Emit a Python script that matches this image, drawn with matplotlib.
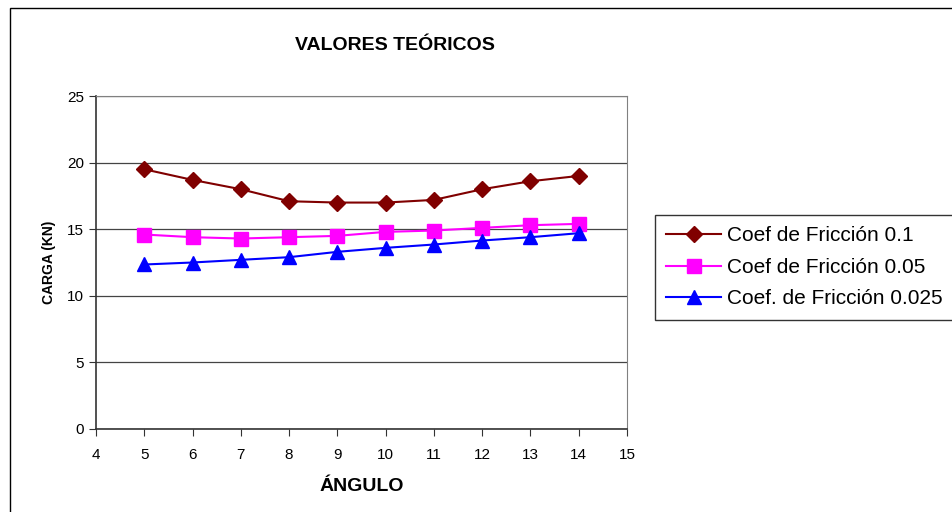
import matplotlib
matplotlib.use("Agg")
import matplotlib.pyplot as plt
from matplotlib.patches import Rectangle

angulo = [5, 6, 7, 8, 9, 10, 11, 12, 13, 14]
coef_01 = [19.5, 18.7, 18.0, 17.1, 17.0, 17.0, 17.2, 18.0, 18.6, 19.0]
coef_005 = [14.6, 14.4, 14.3, 14.4, 14.5, 14.8, 14.9, 15.1, 15.3, 15.4]
coef_0025 = [12.35, 12.5, 12.7, 12.9, 13.3, 13.6, 13.85, 14.15, 14.4, 14.7]
labels = ["Coef de Fricción 0.1", "Coef de Fricción 0.05", "Coef. de Fricción 0.025"]

plt.rcParams['font.family'] = ['Liberation Sans', 'DejaVu Sans']

fig = plt.figure(figsize=(9.53, 5.12), dpi=100)
fig.patches.append(Rectangle((10/953, 0 - 0.01), 1.0, 1 - 8/512 + 0.01, transform=fig.transFigure,
                             fill=False, edgecolor='black', linewidth=1.0))

ax = fig.add_axes([96/953, 1 - 429/512, (627 - 96)/953, (429 - 96)/512])
ax.plot(angulo, coef_01, color='#800000', marker='D', markersize=8, linewidth=1.5, label=labels[0])
ax.plot(angulo, coef_005, color='#FF00FF', marker='s', markersize=10, linewidth=1.5, label=labels[1])
ax.plot(angulo, coef_0025, color='#0000FF', marker='^', markersize=10, linewidth=1.5, label=labels[2])

ax.set_xlim(4, 15)
ax.set_ylim(0, 25)
ax.set_xticks(range(4, 16))
ax.set_yticks(range(0, 26, 5))
ax.yaxis.grid(True, color='#444444', linewidth=0.9)
ax.set_axisbelow(True)
for s in ['top', 'right']:
    ax.spines[s].set_color('#808080')
for s in ['left', 'bottom']:
    ax.spines[s].set_color('#333333')
    ax.spines[s].set_linewidth(1.2)
ax.tick_params(axis='both', labelsize=11, length=5, direction='out', color='#333333')
ax.tick_params(axis='x', pad=9)
ax.set_xlabel("ÁNGULO", fontsize=14, fontweight='bold', labelpad=11)
ax.set_ylabel("CARGA (KN)", fontsize=10, fontweight='bold', labelpad=8)

fig.text(395/953, 1 - 45/512, "VALORES TEÓRICOS", ha='center', va='center',
         fontsize=14, fontweight='bold')

leg = fig.legend(loc='upper left', bbox_to_anchor=(655/953, 1 - 215/512),
                 frameon=True, fancybox=False, edgecolor='black',
                 borderpad=0.55, handlelength=2.6, handletextpad=0.3, labelspacing=0.6,
                 borderaxespad=0, prop={'size': 15})
leg.get_frame().set_linewidth(1.0)

fig.savefig("out.png", dpi=100)
